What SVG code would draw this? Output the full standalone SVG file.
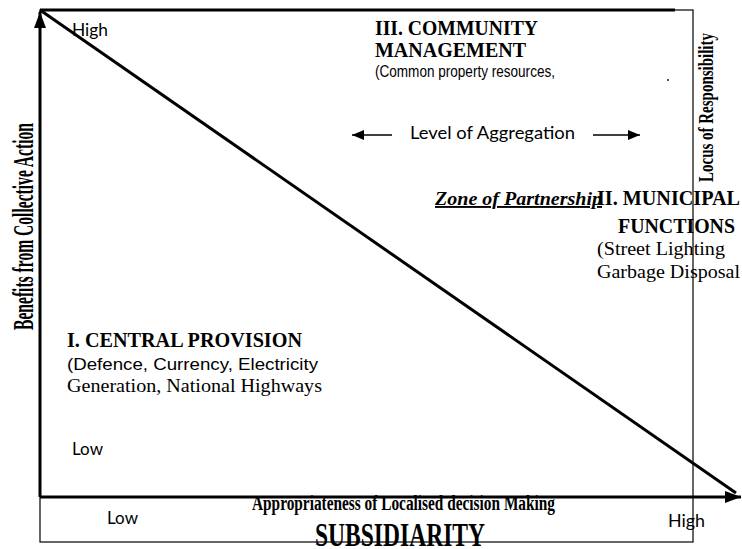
<svg xmlns="http://www.w3.org/2000/svg" width="742" height="549" viewBox="0 0 742 549">
<defs>
<style>
.bg{fill:#fff}
.thick{stroke:#000;stroke-width:3;fill:none}
.thin{stroke:#000;stroke-width:1.2;fill:none}
.cal{font-family:Lato,"Open Sans",sans-serif;font-size:16.5px;fill:#000}
.hd{font-family:"Liberation Serif",serif;font-weight:bold;font-size:20px;fill:#000}
.ser{font-family:"Liberation Serif",serif;font-size:19px;fill:#000}
.sans{font-family:"Liberation Sans",sans-serif;font-size:17px;fill:#000}
.cond{font-family:"Liberation Serif",serif;font-weight:bold;fill:#000}
</style>
<marker id="ah" viewBox="0 0 12 10" refX="12" refY="5" markerWidth="12" markerHeight="10" markerUnits="userSpaceOnUse" orient="auto"><path d="M0,0 L12,5 L0,10 z" fill="#000"/></marker>
<marker id="big" viewBox="0 0 16 12" refX="16" refY="6" markerWidth="16" markerHeight="12" markerUnits="userSpaceOnUse" orient="auto"><path d="M0,0 L16,6 L0,12 z" fill="#000"/></marker>
</defs>
<rect class="bg" x="0" y="0" width="742" height="549"/>
<g id="connectors">
<rect class="thin" x="40" y="10" width="653" height="532"/>
<line class="thick" x1="40" y1="10" x2="675" y2="10"/>
<line class="thick" x1="40" y1="497" x2="40" y2="12" marker-end="url(#big)"/>
<line class="thick" x1="40" y1="497" x2="741" y2="497" marker-end="url(#big)"/>
<line class="thick" x1="40" y1="10" x2="736" y2="493"/>
<line x1="392" y1="135" x2="352" y2="135" stroke="#000" stroke-width="1.5" marker-end="url(#ah)"/>
<line x1="593" y1="135" x2="640" y2="135" stroke="#000" stroke-width="1.5" marker-end="url(#ah)"/>
</g>
<g id="axis-y">
<text class="cond" font-size="29" transform="translate(33,330) rotate(-90)" textLength="207" lengthAdjust="spacingAndGlyphs">Benefits from Collective Action</text>
<text class="cal" x="72" y="36" textLength="36" lengthAdjust="spacingAndGlyphs">High</text>
<text class="cal" x="72" y="455" textLength="31" lengthAdjust="spacingAndGlyphs">Low</text>
</g>
<g id="axis-locus">
<text class="cond" font-size="22" transform="translate(713,182) rotate(-90)" textLength="149" lengthAdjust="spacingAndGlyphs">Locus of Responsibility</text>
</g>
<g id="axis-x">
<text class="cond" font-size="20" x="252" y="510" textLength="303" lengthAdjust="spacingAndGlyphs">Appropriateness of Localised decision Making</text>
<text class="cond" font-size="33" x="315" y="546" textLength="170" lengthAdjust="spacingAndGlyphs">SUBSIDIARITY</text>
<text class="cal" x="107" y="524" textLength="31" lengthAdjust="spacingAndGlyphs">Low</text>
<text class="cal" x="668" y="527" textLength="37" lengthAdjust="spacingAndGlyphs">High</text>
</g>
<g id="community">
<text class="hd" x="375" y="35" textLength="163" lengthAdjust="spacingAndGlyphs">III. COMMUNITY</text>
<text class="hd" x="375" y="57" textLength="151" lengthAdjust="spacingAndGlyphs">MANAGEMENT</text>
<text class="sans" x="375" y="77" textLength="180" lengthAdjust="spacingAndGlyphs">(Common property resources,</text>
<circle cx="668" cy="80" r="0.9" fill="#000"/>
</g>
<g id="aggregation">
<text class="cal" font-size="17.5" x="410" y="139" textLength="165" lengthAdjust="spacingAndGlyphs">Level of Aggregation</text>
</g>
<g id="partnership">
<text class="ser" font-weight="bold" font-style="italic" text-decoration="underline" x="435" y="205" textLength="167" lengthAdjust="spacingAndGlyphs">Zone of Partnership</text>
</g>
<g id="municipal">
<text class="hd" font-size="19" x="597" y="205" textLength="143" lengthAdjust="spacingAndGlyphs">II. MUNICIPAL</text>
<text class="hd" font-size="19" x="618" y="233" textLength="117" lengthAdjust="spacingAndGlyphs">FUNCTIONS</text>
<text class="ser" x="597" y="255" textLength="128" lengthAdjust="spacingAndGlyphs">(Street Lighting</text>
<text class="ser" x="597" y="278" textLength="143" lengthAdjust="spacingAndGlyphs">Garbage Disposal</text>
</g>
<g id="central">
<text class="hd" x="67" y="347" textLength="235" lengthAdjust="spacingAndGlyphs">I. CENTRAL PROVISION</text>
<text class="sans" x="67" y="370" textLength="251" lengthAdjust="spacingAndGlyphs">(Defence, Currency, Electricity</text>
<text class="ser" x="67" y="392" textLength="255" lengthAdjust="spacingAndGlyphs">Generation, National Highways</text>
</g>
</svg>
